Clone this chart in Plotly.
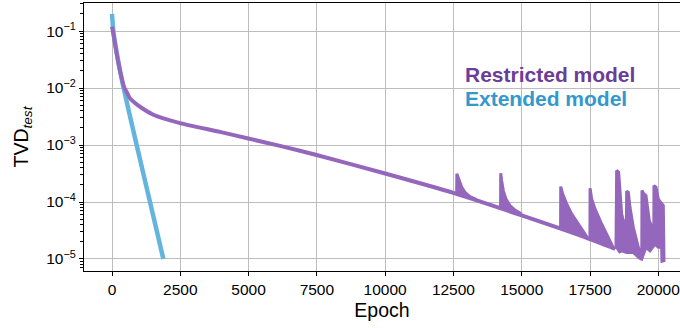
import plotly.graph_objects as go

# ---------------- data ----------------
extended_epochs = [0, 49, 180, 414, 903, 1391, 1880]
extended_tvd = [0.2, 0.1, 0.04, 0.0105, 1.0e-3, 1.0e-4, 1.0e-5]

restricted_epochs = [0, 50, 110, 230, 440, 560, 659, 800, 1025, 1513, 2490, 3950, 4990,
                     6150, 7490, 10000, 12500, 15000, 16400, 17380, 18420]
restricted_tvd = [0.12, 0.09, 0.06, 0.028, 0.0105, 0.0081, 0.0066, 0.0057, 0.0047, 0.0034,
                  2.43e-3, 1.70e-3, 1.30e-3, 9.66e-4, 6.68e-4, 3.16e-4, 1.445e-4,
                  5.82e-5, 3.43e-5, 2.34e-5, 1.50e-5]

# instability spikes of the restricted model (upper envelope, starting on the baseline)
spike1_epochs = [12618, 12625, 12716, 12801, 12923, 13106, 13350]
spike1_tvd = [1.38e-4, 3.12e-4, 2.38e-4, 1.82e-4, 1.48e-4, 1.245e-4, 1.10e-4]
spike2_epochs = [14225, 14232, 14265, 14326, 14424, 14571, 14754, 14998]
spike2_tvd = [8.07e-5, 3.21e-4, 2.38e-4, 1.585e-4, 1.13e-4, 8.65e-5, 7.24e-5, 6.17e-5]
spike3_epochs = [16422, 16428, 16499, 16646, 16829, 17073, 17317, 17439]
spike3_tvd = [3.24e-5, 1.87e-4, 1.387e-4, 9.25e-5, 6.17e-5, 4.11e-5, 2.74e-5, 2.24e-5]
spike4_epochs = [17497, 17503, 17561, 17683, 17927, 18171, 18378]
spike4_tvd = [2.15e-5, 1.75e-4, 1.13e-4, 7.55e-5, 4.11e-5, 2.40e-5, 1.49e-5]

# final unstable region (upper envelope then lower envelope back)
chaos_epochs = [18451, 18476, 18549, 18598, 18659, 18720, 18835, 18842, 18903, 18964,
                19086, 19269, 19395, 19403, 19476, 19549, 19598, 19671, 19835, 19842,
                19915, 20001, 20086, 20184, 20209,
                20135, 20123, 20001, 19879, 19696, 19549, 19391, 19306, 19086,
                18842, 18659, 18537]
chaos_tvd = [1.49e-5, 3.57e-4, 3.34e-4, 1.585e-4, 6.17e-5, 4.71e-5, 4.5e-5, 1.55e-4, 1.48e-4, 8.07e-5,
             3.59e-5, 1.60e-5, 1.1e-5, 1.585e-4, 1.387e-4, 1.30e-4, 8.07e-5, 4.71e-5, 3.0e-5, 1.945e-4,
             1.82e-4, 1.13e-4, 9.89e-5, 8.65e-5, 9.33e-6,
             9.12e-6, 1.60e-5, 1.60e-5, 1.83e-5, 1.39e-5, 1.60e-5, 9.95e-6, 1.04e-5, 1.30e-5,
             1.30e-5, 1.39e-5, 1.30e-5]

x_tick_vals = [0, 2500, 5000, 7500, 10000, 12500, 15000, 17500, 20000]
y_tick_vals = [1e-1, 1e-2, 1e-3, 1e-4, 1e-5]
y_tick_text = ["10<sup>\u22121</sup>", "10<sup>\u22122</sup>", "10<sup>\u22123</sup>",
               "10<sup>\u22124</sup>", "10<sup>\u22125</sup>"]
y_minor_vals = [m * 10.0 ** e for e in range(-6, 0) for m in range(2, 10)]

series_names = ["Restricted model", "Extended model"]

# ---------------- styles ----------------
PURPLE = "#9467bd"
BLUE = "#64b5dd"
PURPLE_TXT = "#6b3d98"
BLUE_TXT = "#3399cc"
FONT = "Liberation Sans, Arial, sans-serif"

fig = go.Figure()
fig.add_trace(go.Scatter(x=extended_epochs, y=extended_tvd, mode="lines",
                         line=dict(color=BLUE, width=4.5, shape="spline", smoothing=0.5),
                         name=series_names[1]))
fig.add_trace(go.Scatter(x=restricted_epochs, y=restricted_tvd, mode="lines",
                         line=dict(color=PURPLE, width=4, shape="spline", smoothing=0.6),
                         name=series_names[0]))
for ex, ey in [(spike1_epochs, spike1_tvd), (spike2_epochs, spike2_tvd),
               (spike3_epochs, spike3_tvd), (spike4_epochs, spike4_tvd),
               (chaos_epochs, chaos_tvd)]:
    fig.add_trace(go.Scatter(x=ex, y=ey, mode="lines", fill="toself",
                             fillcolor=PURPLE, line=dict(color=PURPLE, width=3),
                             showlegend=False))

fig.add_annotation(x=0.636, y=0.735, xref="paper", yref="paper", xanchor="left",
                   yanchor="middle", showarrow=False, text="<b>%s</b>" % series_names[0],
                   font=dict(family=FONT, size=21, color=PURPLE_TXT))
fig.add_annotation(x=0.636, y=0.642, xref="paper", yref="paper", xanchor="left",
                   yanchor="middle", showarrow=False, text="<b>%s</b>" % series_names[1],
                   font=dict(family=FONT, size=21, color=BLUE_TXT))

fig.update_layout(
    width=680, height=328,
    margin=dict(l=84, r=0, t=3, b=57, autoexpand=False),
    paper_bgcolor="white", plot_bgcolor="white",
    showlegend=False,
    font=dict(family=FONT, size=15.5, color="black"),
    xaxis=dict(range=[-1025, 20795], tickvals=x_tick_vals,
               ticktext=[str(v) for v in x_tick_vals], ticklabeloverflow="allow",
               showline=True, linecolor="black", linewidth=1.3, mirror=True,
               ticks="outside", ticklen=4, tickcolor="black", tickwidth=1.2,
               showgrid=True, gridcolor="#bdbdbd", gridwidth=1.2, zeroline=False,
               title=dict(text="Epoch", font=dict(size=19.5), standoff=6)),
    yaxis=dict(type="log", range=[-5.211, -0.507], tickvals=y_tick_vals,
               ticktext=y_tick_text,
               showline=True, linecolor="black", linewidth=1.3, mirror=False,
               ticks="outside", ticklen=4, tickcolor="black", tickwidth=1.2,
               showgrid=True, gridcolor="#bdbdbd", gridwidth=1.2, zeroline=False,
               minor=dict(tickvals=y_minor_vals, ticks="outside", ticklen=2.5,
                          tickcolor="black", tickwidth=1, showgrid=False),
               title=dict(text="TVD<sub><i>test</i></sub>", font=dict(size=19.5), standoff=12)),
)

fig.write_html("out.html", config={"displayModeBar": False},
               post_script="document.body.style.margin='0';")
